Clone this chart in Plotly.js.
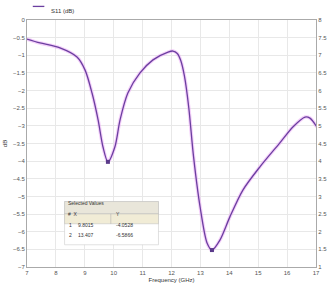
<!DOCTYPE html>
<html><head><meta charset="utf-8">
<script src="https://cdn.plot.ly/plotly-3.0.1.min.js"></script>
<style>body{margin:0;background:#fff}#c{width:331px;height:289px}</style>
</head><body><div id="c"></div>
<script>
const freq = [7.00,7.45,8.14,8.73,9.01,9.25,9.46,9.63,9.80,10.04,10.22,10.49,10.91,11.36,11.88,12.05,12.20,12.32,12.45,12.60,12.76,12.99,13.23,13.40,13.68,14.02,14.47,15.06,15.75,16.20,16.62,16.79,17.03];
const s11 = [-0.54,-0.65,-0.79,-1.05,-1.42,-2.07,-2.83,-3.60,-4.02,-3.60,-2.83,-2.07,-1.50,-1.13,-0.91,-0.88,-0.95,-1.15,-1.60,-2.50,-3.85,-5.30,-6.32,-6.52,-6.23,-5.58,-4.82,-4.16,-3.48,-3.03,-2.75,-2.78,-3.03];
const markX = [9.80, 13.40];
const markY = [-4.02, -6.52];
const xTicks = [7,8,9,10,11,12,13,14,15,16,17];
const tableRows = [["1","9.8015","-4.0528"],["2","13.407","-6.5866"]];
const seriesName = "S11 (dB)";

const traces = [
  {x: freq, y: s11, mode:'lines', line:{color:'rgba(235,170,245,0.55)', width:3.5, shape:'spline', smoothing:0.8}, showlegend:false, hoverinfo:'skip'},
  {x: freq, y: s11, mode:'lines', name: seriesName, line:{color:'#6b3fa0', width:1.3, shape:'spline', smoothing:0.8}, showlegend:false},
  {x: markX, y: markY, mode:'markers', marker:{color:'#5a3a8a', size:4, symbol:'square'}, showlegend:false},
  {x: [], y: [], yaxis:'y2', showlegend:false}
];
const f = {family:'Liberation Sans, Arial', size:6, color:'#555'};
const tf = {family:'Liberation Sans, Arial', size:5, color:'#333'};
const layout = {
  width:331, height:289,
  margin:{l:27, r:15, t:20, b:22},
  paper_bgcolor:'#fff', plot_bgcolor:'#fff',
  showlegend:false,
  xaxis:{range:[7,17], tickvals:xTicks, ticktext:xTicks.map(String), tickfont:f, showgrid:true, gridcolor:'#e8e8e8', linecolor:'#aaa', showline:true, mirror:true, zeroline:false, ticks:'',
    title:{text:'Frequency (GHz)', font:{family:'Liberation Sans, Arial', size:6, color:'#333'}, standoff:2}},
  yaxis:{range:[-7,0], dtick:0.5, tickfont:f, showgrid:true, gridcolor:'#e8e8e8', linecolor:'#aaa', showline:true, zeroline:false, ticks:'',
    title:{text:'dB', font:{family:'Liberation Sans, Arial', size:6, color:'#333'}, standoff:4}},
  yaxis2:{overlaying:'y', side:'right', range:[1,8], dtick:0.5, tickfont:f, showgrid:false, showline:true, linecolor:'#aaa', zeroline:false, ticks:''},
  shapes:[
    {type:'line', xref:'paper', yref:'paper', x0:0.02, x1:0.06, y0:1.055, y1:1.055, line:{color:'#6b3fa0', width:1.3}},
    {type:'rect', xref:'paper', yref:'paper', x0:0.13, x1:0.455, y0:0.09, y1:0.265, fillcolor:'#ffffff', line:{color:'#ccc', width:0.6}},
    {type:'rect', xref:'paper', yref:'paper', x0:0.13, x1:0.455, y0:0.215, y1:0.265, fillcolor:'#e9e6da', line:{color:'#bbb', width:0.5}},
    {type:'rect', xref:'paper', yref:'paper', x0:0.13, x1:0.455, y0:0.175, y1:0.215, fillcolor:'#f1ecd6', line:{color:'#bbb', width:0.5}},
    {type:'line', xref:'paper', yref:'paper', x0:0.29, x1:0.29, y0:0.175, y1:0.215, line:{color:'#aaa', width:0.5}}
  ],
  annotations:[
    {xref:'paper', yref:'paper', x:0.075, y:1.055, text:seriesName, showarrow:false, xanchor:'left', font:{family:'Liberation Sans, Arial', size:6, color:'#333'}},
    {xref:'paper', yref:'paper', x:0.135, y:0.24, text:'Selected Values', showarrow:false, xanchor:'left', font:tf},
    {xref:'paper', yref:'paper', x:0.135, y:0.195, text:'#  X', showarrow:false, xanchor:'left', font:tf},
    {xref:'paper', yref:'paper', x:0.3, y:0.195, text:'Y', showarrow:false, xanchor:'left', font:tf},
    ...tableRows.flatMap((r,i)=>[
      {xref:'paper', yref:'paper', x:0.14, y:0.15-i*0.04, text:r[0], showarrow:false, xanchor:'left', font:tf},
      {xref:'paper', yref:'paper', x:0.17, y:0.15-i*0.04, text:r[1], showarrow:false, xanchor:'left', font:tf},
      {xref:'paper', yref:'paper', x:0.3, y:0.15-i*0.04, text:r[2], showarrow:false, xanchor:'left', font:tf}
    ])
  ]
};
Plotly.newPlot('c', traces, layout, {displayModeBar:false, staticPlot:true});
</script></body></html>
